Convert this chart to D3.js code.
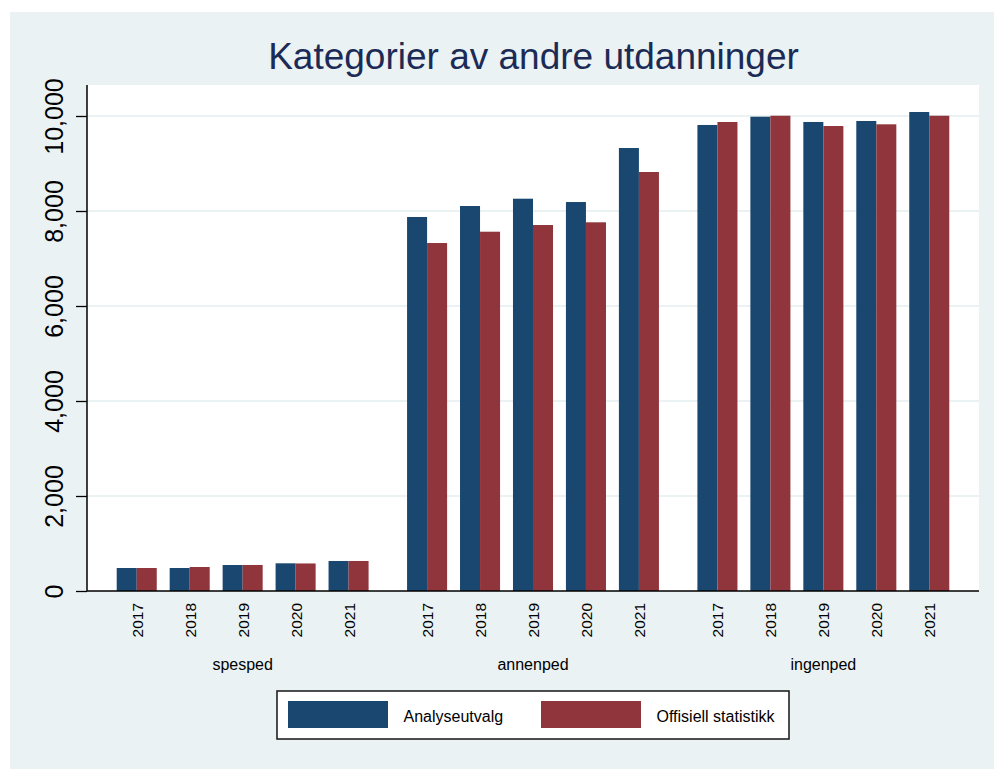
<!DOCTYPE html>
<html>
<head>
<meta charset="utf-8">
<script src="https://cdn.jsdelivr.net/npm/d3@7"></script>
<style>
  html, body { margin: 0; padding: 0; background: #ffffff; }
  svg { display: block; font-family: "Liberation Sans", Arial, Helvetica, sans-serif; }
</style>
</head>
<body>
<svg id="chart" width="994" height="769"></svg>
<script>
// ---- Data ----
const title = "Kategorier av andre utdanninger";
const groups = ["spesped", "annenped", "ingenped"];
const years = ["2017", "2018", "2019", "2020", "2021"];
const seriesNames = ["Analyseutvalg", "Offisiell statistikk"];
// values ordered group by group, years 2017..2021 within each group
const analyseutvalg = [484, 484, 547, 583, 632, 7874, 8105, 8259, 8189, 9326, 9811, 9985, 9874, 9895, 10084];
const offisiell     = [484, 505, 548, 580, 632, 7326, 7564, 7705, 7762, 8821, 9874, 10006, 9789, 9825, 10006];
const yTicks = [0, 2000, 4000, 6000, 8000, 10000];

// ---- Style ----
const colors = ["#1a476f", "#90353b"];
const bgColor = "#eaf2f3";
const titleColor = "#1c2b56";

const svg = d3.select("#chart");

// background (graph region)
svg.append("rect").attr("x", 10).attr("y", 12).attr("width", 984).attr("height", 757).attr("fill", bgColor);

// plot region
const plot = { left: 87, right: 979, top: 85, bottom: 591 };
svg.append("rect").attr("x", plot.left).attr("y", plot.top)
  .attr("width", plot.right - plot.left).attr("height", plot.bottom - plot.top).attr("fill", "#ffffff");

// scales
const y = d3.scaleLinear().domain([0, 10000]).range([plot.bottom, 116]);
const xGroup = d3.scaleBand().domain(groups).range([110.25, 955.75]).paddingInner(0.088).paddingOuter(0);
const xYear = d3.scaleBand().domain(years).range([0, xGroup.bandwidth()]).paddingInner(0.244).paddingOuter(0.122);
const xSeries = d3.scaleBand().domain(seriesNames).range([0, xYear.bandwidth()]);

// gridlines
svg.append("g").selectAll("line").data(yTicks.filter(d => d > 0)).join("line")
  .attr("x1", plot.left).attr("x2", plot.right)
  .attr("y1", d => y(d)).attr("y2", d => y(d))
  .attr("stroke", bgColor).attr("stroke-width", 2);

// build rows
const rows = [];
groups.forEach((g, gi) => {
  years.forEach((yr, yi) => {
    const idx = gi * years.length + yi;
    rows.push({ group: g, year: yr, values: [analyseutvalg[idx], offisiell[idx]] });
  });
});

// bars
const barG = svg.append("g");
rows.forEach(r => {
  const x0 = xGroup(r.group) + xYear(r.year);
  seriesNames.forEach((s, si) => {
    barG.append("rect")
      .attr("x", x0 + xSeries(s))
      .attr("y", y(r.values[si]))
      .attr("width", xSeries.bandwidth())
      .attr("height", y(0) - y(r.values[si]))
      .attr("fill", colors[si]);
  });
});

// y axis
const yAxis = d3.axisLeft(y).tickValues(yTicks).tickSize(11).tickFormat(d3.format(","));
const ya = svg.append("g").attr("transform", `translate(${plot.left},0)`).call(yAxis);
ya.select(".domain").remove();
ya.selectAll(".tick line").attr("stroke", "#000").attr("stroke-width", 1.3);
ya.selectAll(".tick text").remove();
ya.selectAll(".tick").append("text")
  .attr("transform", "translate(-24,0) rotate(-90)")
  .attr("text-anchor", "middle")
  .attr("fill", "#000")
  .style("font-size", "25px")
  .style("font-family", '"Liberation Sans", Arial, sans-serif')
  .text(d => d3.format(",")(d));
svg.append("line").attr("x1", plot.left).attr("x2", plot.left).attr("y1", plot.top).attr("y2", plot.bottom)
  .attr("stroke", "#000").attr("stroke-width", 1.5);
// x axis line
svg.append("line").attr("x1", plot.left).attr("x2", plot.right).attr("y1", plot.bottom).attr("y2", plot.bottom)
  .attr("stroke", "#000").attr("stroke-width", 1.5);

// year labels
rows.forEach(r => {
  const cx = xGroup(r.group) + xYear(r.year) + xYear.bandwidth() / 2;
  svg.append("text")
    .attr("transform", `translate(${cx + 6},603) rotate(-90)`)
    .attr("text-anchor", "end")
    .style("font-size", "15.5px")
    .attr("fill", "#000")
    .text(r.year);
});

// group labels
svg.append("g").selectAll("text").data(groups).join("text")
  .attr("x", d => xGroup(d) + xGroup.bandwidth() / 2)
  .attr("y", 670)
  .attr("text-anchor", "middle")
  .style("font-size", "16px")
  .attr("fill", "#000")
  .text(d => d);

// title
svg.append("text").attr("x", 533.5).attr("y", 69).attr("text-anchor", "middle")
  .style("font-size", "37px").attr("fill", titleColor).text(title);

// legend
const lg = svg.append("g");
lg.append("rect").attr("x", 277).attr("y", 691).attr("width", 512).attr("height", 48)
  .attr("fill", "#ffffff").attr("stroke", "#222").attr("stroke-width", 1.6);
const legX = [288, 541];
seriesNames.forEach((s, i) => {
  lg.append("rect").attr("x", legX[i]).attr("y", 701).attr("width", 100).attr("height", 27).attr("fill", colors[i]);
  lg.append("text").attr("x", legX[i] + 115.5).attr("y", 722)
    .style("font-size", "16px").attr("fill", "#000").text(s);
});
</script>
</body>
</html>
